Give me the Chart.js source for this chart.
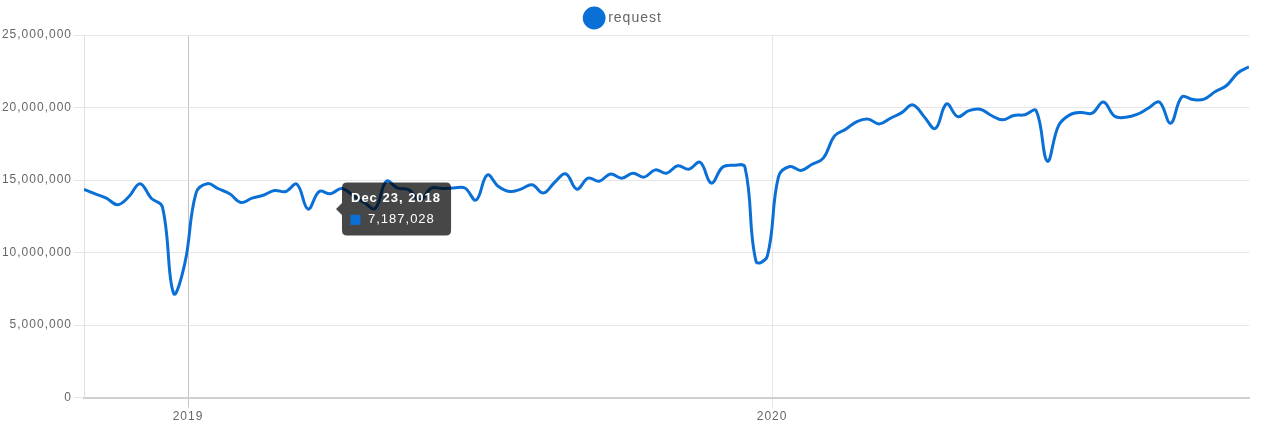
<!DOCTYPE html>
<html>
<head>
<meta charset="utf-8">
<script src="https://cdn.jsdelivr.net/npm/chart.js@4/dist/chart.umd.min.js"></script>
<style>
  html, body { margin: 0; padding: 0; background: #fff; }
  #wrap { width: 1280px; height: 426px; }
</style>
</head>
<body>
<div id="wrap"><canvas id="lineChart"></canvas></div>
<script>
// weekly download counts for "request" (week starting on the date)
const weeks = [
  '2018-10-28', '2018-11-04', '2018-11-11', '2018-11-18', '2018-11-25', '2018-12-02', '2018-12-09', '2018-12-16',
  '2018-12-23', '2018-12-30', '2019-01-06', '2019-01-13', '2019-01-20', '2019-01-27', '2019-02-03', '2019-02-10',
  '2019-02-17', '2019-02-24', '2019-03-03', '2019-03-10', '2019-03-17', '2019-03-24', '2019-03-31', '2019-04-07',
  '2019-04-14', '2019-04-21', '2019-04-28', '2019-05-05', '2019-05-12', '2019-05-19', '2019-05-26', '2019-06-02',
  '2019-06-09', '2019-06-16', '2019-06-23', '2019-06-30', '2019-07-07', '2019-07-14', '2019-07-21', '2019-07-28',
  '2019-08-04', '2019-08-11', '2019-08-18', '2019-08-25', '2019-09-01', '2019-09-08', '2019-09-15', '2019-09-22',
  '2019-09-29', '2019-10-06', '2019-10-13', '2019-10-20', '2019-10-27', '2019-11-03', '2019-11-10', '2019-11-17',
  '2019-11-24', '2019-12-01', '2019-12-08', '2019-12-15', '2019-12-22', '2019-12-29', '2020-01-05', '2020-01-12',
  '2020-01-19', '2020-01-26', '2020-02-02', '2020-02-09', '2020-02-16', '2020-02-23', '2020-03-01', '2020-03-08',
  '2020-03-15', '2020-03-22', '2020-03-29', '2020-04-05', '2020-04-12', '2020-04-19', '2020-04-26', '2020-05-03',
  '2020-05-10', '2020-05-17', '2020-05-24', '2020-05-31', '2020-06-07', '2020-06-14', '2020-06-21', '2020-06-28',
  '2020-07-05', '2020-07-12', '2020-07-19', '2020-07-26', '2020-08-02', '2020-08-09', '2020-08-16', '2020-08-23',
  '2020-08-30', '2020-09-06', '2020-09-13', '2020-09-20', '2020-09-27', '2020-10-04', '2020-10-11', '2020-10-18',
  '2020-10-25'
];
const downloads = [
  14350000, 14050000, 13750000, 13300000, 13850000, 14750000, 13750000, 13150000,
  7187028, 9250000, 14100000, 14750000, 14400000, 14050000, 13450000, 13750000,
  13950000, 14280000, 14210000, 14720000, 13000000, 14210000, 14050000, 14420000,
  13950000, 13450000, 13050000, 14920000, 14440000, 14330000, 13600000, 14440000,
  14420000, 14450000, 14450000, 13620000, 15350000, 14550000, 14210000, 14370000,
  14670000, 14100000, 14830000, 15430000, 14370000, 15130000, 14920000, 15420000,
  15130000, 15470000, 15200000, 15700000, 15470000, 15980000, 15750000, 16220000,
  14790000, 15880000, 16020000, 15900000, 9380000, 9760000, 15240000, 15930000,
  15660000, 16090000, 16510000, 18040000, 18500000, 19030000, 19200000, 18870000,
  19260000, 19650000, 20180000, 19370000, 18550000, 20250000, 19370000, 19790000,
  19880000, 19450000, 19150000, 19450000, 19500000, 19780000, 16300000, 18750000,
  19490000, 19660000, 19610000, 20380000, 19400000, 19330000, 19520000, 19950000,
  20380000, 18920000, 20730000, 20550000, 20580000, 21100000, 21520000, 22380000,
  22800000
];
const yearTicks = ['2019-01-01', '2020-01-01'];
const seriesName = 'request';
const hoverWeek = '2018-12-23';

const blue = 'rgb(11, 112, 214)';
const fontFamily = '"Liberation Sans", Arial, Helvetica, sans-serif';
const monthNames = ['Jan', 'Feb', 'Mar', 'Apr', 'May', 'Jun', 'Jul', 'Aug', 'Sep', 'Oct', 'Nov', 'Dec'];

function fmtDate(ms) {
    const d = new Date(ms);
    return `${monthNames[d.getUTCMonth()]} ${d.getUTCDate()}, ${d.getUTCFullYear()}`;
}

const points = weeks.map((w, i) => ({ x: Date.parse(w), y: downloads[i] }));
const yearMs = yearTicks.map(t => Date.parse(t));

// the wide-looking text of the original
const spacing = {
    id: 'spacing',
    beforeUpdate(chart) { chart.ctx.letterSpacing = '1px'; },
    beforeDraw(chart) { chart.ctx.letterSpacing = '1px'; }
};

// keep the tooltip where it sits in the picture
Chart.Tooltip.positioners.pinned = function () {
    const area = this.chart.chartArea;
    return { x: area.left + 250, y: area.top + 174 };
};

let chart;
function initializeChart() {
    const ctx = document.getElementById('lineChart').getContext('2d');
    chart = new Chart(ctx, {
        type: 'line',
        data: {
            datasets: [{
                label: seriesName,
                data: points,
                borderColor: blue,
                backgroundColor: blue,
                borderWidth: 3,
                tension: 0.4,
                pointRadius: 0,
                pointHoverRadius: 0,
                fill: false
            }]
        },
        plugins: [spacing],
        options: {
            responsive: true,
            maintainAspectRatio: false,
            animation: false,
            events: [],
            layout: { padding: { right: 31, top: 2, bottom: 0 } },
            scales: {
                x: {
                    type: 'linear',
                    min: points[0].x,
                    max: points[points.length - 1].x,
                    afterBuildTicks: scale => { scale.ticks = yearMs.map(v => ({ value: v })); },
                    ticks: {
                        color: '#666',
                        font: { family: fontFamily, size: 12 },
                        padding: 2,
                        maxRotation: 0,
                        callback: v => String(new Date(v).getUTCFullYear())
                    },
                    grid: {
                        color: c => (c.index === 0 ? '#c4c4c4' : '#e6e6e6'),
                        tickLength: 10
                    },
                    border: { color: '#cfcfcf', width: 2 }
                },
                y: {
                    min: 0,
                    max: 25000000,
                    afterFit: scale => { scale.width = 84; },
                    ticks: {
                        stepSize: 5000000,
                        color: '#666',
                        font: { family: fontFamily, size: 12 },
                        padding: 2,
                        callback: v => v.toLocaleString('en-US')
                    },
                    grid: { color: '#e6e6e6', tickLength: 10 },
                    border: { color: '#e0e0e0' }
                }
            },
            plugins: {
                legend: {
                    position: 'top',
                    labels: {
                        usePointStyle: true,
                        pointStyle: 'circle',
                        color: '#666',
                        font: { family: fontFamily, size: 14 },
                        padding: 9
                    }
                },
                tooltip: {
                    enabled: true,
                    position: 'pinned',
                    xAlign: 'left',
                    yAlign: 'center',
                    backgroundColor: 'rgba(0, 0, 0, 0.72)',
                    titleColor: '#fff',
                    bodyColor: '#fff',
                    titleFont: { family: fontFamily, size: 13, weight: 'bold' },
                    bodyFont: { family: fontFamily, size: 13 },
                    titleMarginBottom: 6,
                    padding: { left: 9, right: 10, top: 8, bottom: 8 },
                    cornerRadius: 5,
                    caretSize: 6,
                    boxWidth: 9,
                    boxHeight: 9,
                    boxPadding: 6,
                    displayColors: true,
                    multiKeyBackground: blue,
                    callbacks: {
                        title: items => fmtDate(items[0].parsed.x),
                        label: item => item.parsed.y.toLocaleString('en-US'),
                        labelColor: () => ({ borderColor: blue, backgroundColor: blue, borderWidth: 0 })
                    }
                }
            }
        }
    });

    const idx = weeks.indexOf(hoverWeek);
    chart.tooltip.setActiveElements([{ datasetIndex: 0, index: idx }], { x: 0, y: 0 });
    chart.update();
}

initializeChart();
</script>
</body>
</html>
